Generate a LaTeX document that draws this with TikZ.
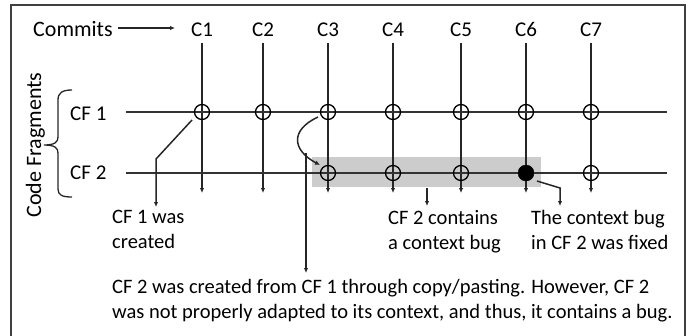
\documentclass[tikz,border=0pt]{standalone}
\usepackage{fontspec}
\setmainfont{Carlito}
\usetikzlibrary{arrows.meta}
\begin{document}
\begin{tikzpicture}[x=1pt,y=-1pt,
  ln/.style={line width=1.5pt, draw=black!85},
  hln/.style={line width=2pt, draw=black!80},
  arr/.style={ln, -{Latex[length=5pt,width=4.5pt]}},
  cmt/.style={circle, draw=black, line width=1.3pt, minimum size=15pt, inner sep=0pt},
  fix/.style={circle, fill=black, draw=black, minimum size=16pt, inner sep=0pt},
  lbl/.style={font=\fontsize{21}{25}\selectfont, inner sep=0pt, anchor=base},
  txt/.style={font=\fontsize{20.5}{25}\selectfont, inner sep=0pt, align=left, anchor=north west}]
\useasboundingbox (0,0) rectangle (694,335);
% frame
\draw[line width=2pt, black!75] (11,336) -- (11,5) -- (685,5) -- (685,336);
% highlight
\fill[gray!40] (312,157) rectangle (541,187);
% commits label
\node[lbl, anchor=base west, font=\fontsize{22}{26}\selectfont] (commits) at (33,36) {Commits};
\coordinate (ca0) at (118,28);
\coordinate (ca1) at (175,28);
\draw[arr] (ca0) -- (ca1);
% columns
\foreach \i/\x in {1/202,2/263,3/328,4/393,5/461,6/526,7/591}{
  \node[lbl] (c\i) at (\x,36) {C\i};
  \coordinate (t\i) at (\x,43);
  \coordinate (b\i) at (\x,193);
  \draw[arr] (t\i) -- (b\i);
}
% rows
\node[lbl, anchor=base west] (cf1) at (70,120) {CF 1};
\node[lbl, anchor=base west] (cf2) at (70,179) {CF 2};
\coordinate (r1a) at (126,112); \coordinate (r1b) at (667,112);
\coordinate (r2a) at (126,173); \coordinate (r2b) at (667,173);
\draw[hln] (r1a) -- (r1b);
\draw[hln] (r2a) -- (r2b);
% brace and row title
\coordinate (brt) at (72,90); \coordinate (brtip) at (44,145); \coordinate (brb) at (72,197);
\draw[line width=1.3pt, black!85]
  (brt) .. controls (62,90) and (58,93) .. (58,100) -- (58,137)
  .. controls (58,142) and (55,145) .. (brtip)
  .. controls (55,145) and (58,148) .. (58,153) -- (58,189)
  .. controls (58,195) and (62,197) .. (brb);
\node[font=\fontsize{22}{26}\selectfont, inner sep=0pt, rotate=90, anchor=base] (cfr) at (41,145) {Code Fragments};
% commit points
\foreach \i/\x in {1/202,2/263,3/328,4/393,5/461,6/526,7/591}{
  \node[cmt] (p1\i) at (\x,112) {};
}
\foreach \i/\x in {3/328,4/393,5/461,7/591}{
  \node[cmt] (p2\i) at (\x,173) {};
}
\node[fix] (p26) at (526,173) {};
% annotations
\coordinate (a1s) at (192,120); \coordinate (a1m) at (156,159); \coordinate (a1e) at (156,207);
\draw[arr] (a1s) -- (a1m) -- (a1e);
\coordinate (cps) at (318,117); \coordinate (cpe) at (320,165);
\draw[arr] (cps) .. controls (290,130) and (292,150) .. (cpe);
\coordinate (lgs) at (306,153); \coordinate (lge) at (306,273);
\draw[arr] (lgs) -- (lge);
\coordinate (bgs) at (427,188); \coordinate (bge) at (427,206);
\draw[arr] (bgs) -- (bge);
\coordinate (fxs) at (537,181); \coordinate (fxm) at (560,188); \coordinate (fxe) at (560,206);
\draw[arr] (fxs) -- (fxm) -- (fxe);
% texts
\node[txt] (n1) at (112,205.5) {\strut CF 1 was\\created};
\node[txt] (n2) at (388,206.5) {\strut CF 2 contains\\a context bug};
\node[txt] (n3) at (531,206.5) {\strut The context bug\\in CF 2 was fixed};
\node[txt] (n4) at (112,275.5) {\strut CF 2 was created from CF 1 through copy/pasting. However, CF 2\\was not properly adapted to its context, and thus, it contains a bug.};
\end{tikzpicture}
\end{document}
